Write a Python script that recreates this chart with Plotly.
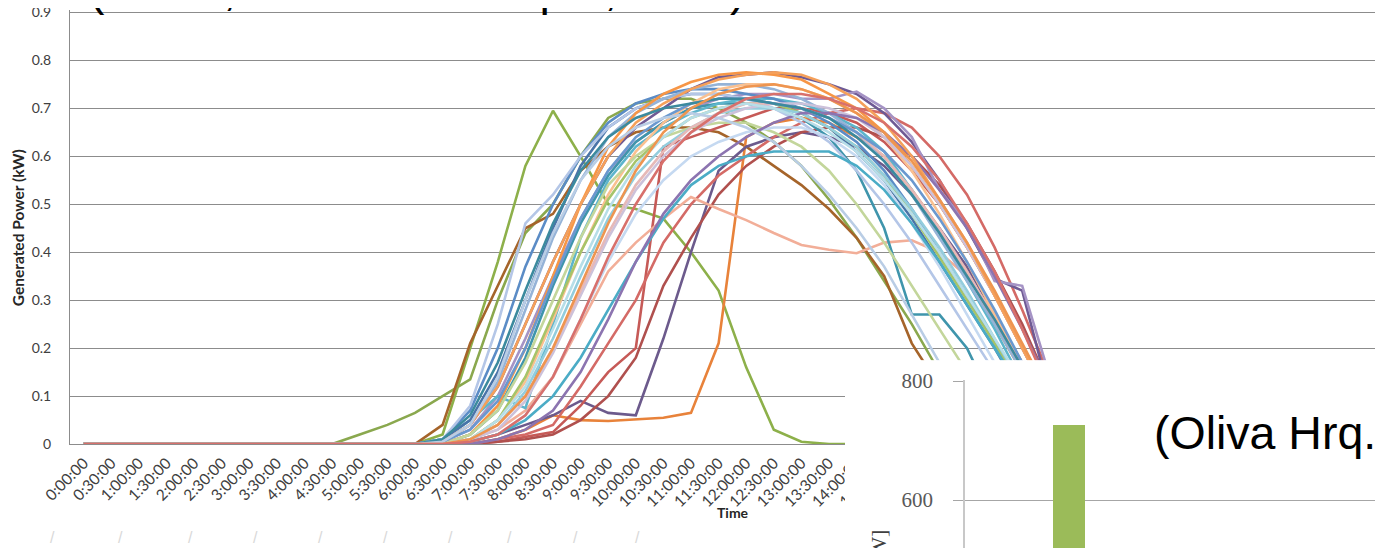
import plotly.graph_objects as go

# ---------------- data ----------------
time_labels = [
    "0:00:00", "0:30:00", "1:00:00", "1:30:00", "2:00:00", "2:30:00", "3:00:00", "3:30:00",
    "4:00:00", "4:30:00", "5:00:00", "5:30:00", "6:00:00", "6:30:00", "7:00:00", "7:30:00",
    "8:00:00", "8:30:00", "9:00:00", "9:30:00", "10:00:00", "10:30:00", "11:00:00", "11:30:00",
    "12:00:00", "12:30:00", "13:00:00", "13:30:00", "14:00:00", "14:30:00", "15:00:00", "15:30:00",
    "16:00:00", "16:30:00", "17:00:00", "17:30:00", "18:00:00", "18:30:00", "19:00:00", "19:30:00",
    "20:00:00", "20:30:00", "21:00:00", "21:30:00", "22:00:00", "22:30:00", "23:00:00", "23:30:00",
]
power_ticks = [0, 0.1, 0.2, 0.3, 0.4, 0.5, 0.6, 0.7, 0.8, 0.9]
power_tick_text = ["0", "0.1", "0.2", "0.3", "0.4", "0.5", "0.6", "0.7", "0.8", "0.9"]

# night values (0:00 - 4:00 and 19:00 - 23:30) read as zero
night_am = [0, 0, 0, 0, 0, 0, 0, 0, 0]
night_pm = [0, 0, 0, 0, 0, 0, 0, 0, 0, 0]

# day values 4:30 ... 18:30 (29 half-hour steps), kW
day01 = [0, 0, 0, 0, 0.02, 0.2, 0.38, 0.58, 0.695, 0.6, 0.5, 0.49, 0.47, 0.4, 0.32, 0.16, 0.03, 0.005, 0, 0, 0, 0, 0, 0, 0, 0, 0, 0, 0]
day02 = [0, 0.02, 0.04, 0.065, 0.1, 0.135, 0.3, 0.44, 0.5, 0.6, 0.68, 0.71, 0.72, 0.72, 0.7, 0.67, 0.63, 0.58, 0.51, 0.43, 0.34, 0.25, 0.15, 0.07, 0.02, 0, 0, 0, 0]
day03 = [0, 0, 0, 0, 0.04, 0.21, 0.33, 0.45, 0.48, 0.57, 0.62, 0.65, 0.66, 0.66, 0.65, 0.62, 0.58, 0.54, 0.49, 0.43, 0.35, 0.21, 0.12, 0.05, 0.01, 0, 0, 0, 0]
day04 = [0, 0, 0, 0, 0, 0, 0.01, 0.03, 0.06, 0.05, 0.048, 0.052, 0.055, 0.065, 0.21, 0.64, 0.67, 0.68, 0.67, 0.64, 0.6, 0.53, 0.45, 0.36, 0.25, 0.15, 0.06, 0.01, 0]
day05 = [0, 0, 0, 0, 0, 0.005, 0.02, 0.04, 0.06, 0.09, 0.065, 0.06, 0.22, 0.4, 0.57, 0.62, 0.64, 0.65, 0.64, 0.62, 0.58, 0.52, 0.45, 0.37, 0.27, 0.17, 0.07, 0.01, 0]
day06 = [0, 0, 0, 0, 0, 0, 0.005, 0.015, 0.025, 0.08, 0.15, 0.2, 0.62, 0.64, 0.66, 0.68, 0.7, 0.7, 0.69, 0.67, 0.63, 0.57, 0.5, 0.41, 0.31, 0.2, 0.09, 0.02, 0]
day07 = [0, 0, 0, 0, 0, 0, 0.005, 0.01, 0.02, 0.05, 0.1, 0.18, 0.33, 0.43, 0.52, 0.58, 0.62, 0.65, 0.66, 0.66, 0.64, 0.6, 0.54, 0.46, 0.36, 0.25, 0.12, 0.03, 0]
day08 = [0, 0, 0, 0, 0, 0, 0.01, 0.02, 0.04, 0.12, 0.21, 0.3, 0.42, 0.5, 0.56, 0.6, 0.64, 0.67, 0.69, 0.7, 0.69, 0.66, 0.6, 0.52, 0.41, 0.28, 0.14, 0.04, 0]
day09 = [0, 0, 0, 0, 0, 0.01, 0.03, 0.07, 0.14, 0.25, 0.36, 0.42, 0.47, 0.515, 0.49, 0.467, 0.44, 0.415, 0.405, 0.398, 0.42, 0.425, 0.4, 0.35, 0.27, 0.17, 0.08, 0.02, 0]
day10 = [0, 0, 0, 0, 0.005, 0.04, 0.12, 0.25, 0.38, 0.5, 0.6, 0.66, 0.7, 0.74, 0.765, 0.77, 0.775, 0.765, 0.75, 0.73, 0.69, 0.63, 0.55, 0.45, 0.345, 0.32, 0.1, 0.02, 0]
day11 = [0, 0, 0, 0, 0.005, 0.03, 0.1, 0.22, 0.35, 0.47, 0.57, 0.63, 0.67, 0.7, 0.72, 0.73, 0.73, 0.72, 0.72, 0.735, 0.7, 0.64, 0.53, 0.46, 0.34, 0.33, 0.14, 0.03, 0]
day12 = [0, 0, 0, 0, 0, 0.02, 0.07, 0.18, 0.33, 0.46, 0.56, 0.63, 0.67, 0.7, 0.71, 0.71, 0.7, 0.68, 0.64, 0.57, 0.45, 0.27, 0.27, 0.2, 0.08, 0.02, 0, 0, 0]
day13 = [0, 0, 0, 0, 0.01, 0.05, 0.1, 0.075, 0.25, 0.43, 0.55, 0.62, 0.66, 0.69, 0.71, 0.72, 0.72, 0.71, 0.69, 0.66, 0.61, 0.53, 0.44, 0.34, 0.24, 0.13, 0.05, 0.01, 0]
day14 = [0, 0, 0, 0, 0.01, 0.07, 0.2, 0.37, 0.5, 0.6, 0.67, 0.71, 0.73, 0.74, 0.74, 0.73, 0.72, 0.7, 0.67, 0.63, 0.57, 0.49, 0.4, 0.31, 0.21, 0.11, 0.04, 0.005, 0]
day15 = [0, 0, 0, 0, 0.01, 0.05, 0.15, 0.3, 0.45, 0.58, 0.66, 0.7, 0.72, 0.73, 0.73, 0.72, 0.71, 0.69, 0.66, 0.61, 0.55, 0.47, 0.38, 0.29, 0.2, 0.1, 0.03, 0, 0]
day16 = [0, 0, 0, 0, 0.01, 0.08, 0.25, 0.46, 0.52, 0.6, 0.66, 0.7, 0.72, 0.73, 0.73, 0.72, 0.7, 0.67, 0.63, 0.57, 0.5, 0.42, 0.33, 0.24, 0.15, 0.07, 0.02, 0, 0]
day17 = [0, 0, 0, 0, 0.005, 0.04, 0.13, 0.28, 0.43, 0.55, 0.64, 0.69, 0.72, 0.74, 0.75, 0.75, 0.74, 0.72, 0.69, 0.65, 0.59, 0.52, 0.43, 0.34, 0.25, 0.15, 0.06, 0.01, 0]
day18 = [0, 0, 0, 0, 0, 0.02, 0.08, 0.2, 0.35, 0.5, 0.62, 0.69, 0.73, 0.755, 0.77, 0.775, 0.77, 0.76, 0.73, 0.7, 0.65, 0.58, 0.5, 0.41, 0.31, 0.2, 0.09, 0.02, 0]
day19 = [0, 0, 0, 0, 0, 0.01, 0.05, 0.13, 0.26, 0.4, 0.52, 0.61, 0.67, 0.71, 0.74, 0.75, 0.75, 0.74, 0.72, 0.69, 0.64, 0.57, 0.48, 0.38, 0.27, 0.16, 0.06, 0.01, 0]
day20 = [0, 0, 0, 0, 0, 0.02, 0.07, 0.17, 0.3, 0.43, 0.54, 0.6, 0.64, 0.66, 0.67, 0.67, 0.65, 0.62, 0.57, 0.5, 0.42, 0.33, 0.24, 0.15, 0.07, 0.02, 0, 0, 0]
day21 = [0, 0, 0, 0, 0, 0.01, 0.05, 0.14, 0.27, 0.4, 0.51, 0.59, 0.64, 0.68, 0.7, 0.71, 0.71, 0.69, 0.66, 0.62, 0.56, 0.48, 0.39, 0.3, 0.21, 0.12, 0.04, 0.005, 0]
day22 = [0, 0, 0, 0, 0, 0.01, 0.04, 0.11, 0.22, 0.35, 0.47, 0.56, 0.62, 0.66, 0.69, 0.7, 0.7, 0.69, 0.66, 0.62, 0.56, 0.49, 0.41, 0.32, 0.22, 0.12, 0.04, 0.005, 0]
day23 = [0, 0, 0, 0, 0, 0.005, 0.02, 0.06, 0.14, 0.26, 0.38, 0.48, 0.55, 0.6, 0.63, 0.65, 0.66, 0.66, 0.64, 0.6, 0.54, 0.46, 0.37, 0.27, 0.17, 0.08, 0.02, 0, 0]
day24 = [0, 0, 0, 0, 0, 0.01, 0.03, 0.09, 0.19, 0.31, 0.43, 0.53, 0.6, 0.65, 0.68, 0.7, 0.71, 0.71, 0.7, 0.68, 0.64, 0.58, 0.5, 0.41, 0.31, 0.2, 0.09, 0.02, 0]
day25 = [0, 0, 0, 0, 0, 0.005, 0.02, 0.05, 0.1, 0.18, 0.28, 0.38, 0.47, 0.54, 0.58, 0.6, 0.61, 0.61, 0.61, 0.58, 0.53, 0.46, 0.38, 0.29, 0.2, 0.11, 0.04, 0.005, 0]
day26 = [0, 0, 0, 0, 0, 0, 0.01, 0.03, 0.07, 0.15, 0.26, 0.38, 0.48, 0.55, 0.6, 0.64, 0.67, 0.69, 0.69, 0.68, 0.65, 0.6, 0.53, 0.45, 0.35, 0.24, 0.12, 0.03, 0]
day27 = [0, 0, 0, 0, 0, 0.01, 0.04, 0.1, 0.2, 0.32, 0.44, 0.54, 0.61, 0.66, 0.69, 0.71, 0.71, 0.7, 0.68, 0.65, 0.6, 0.53, 0.45, 0.36, 0.26, 0.16, 0.07, 0.01, 0]
day28 = [0, 0, 0, 0, 0.005, 0.04, 0.12, 0.25, 0.38, 0.5, 0.6, 0.67, 0.71, 0.74, 0.76, 0.77, 0.775, 0.77, 0.75, 0.72, 0.67, 0.6, 0.51, 0.42, 0.31, 0.2, 0.09, 0.02, 0]
day29 = [0, 0, 0, 0, 0.005, 0.03, 0.09, 0.2, 0.34, 0.47, 0.57, 0.64, 0.68, 0.71, 0.72, 0.72, 0.71, 0.7, 0.68, 0.65, 0.61, 0.55, 0.47, 0.38, 0.28, 0.17, 0.07, 0.01, 0]
day30 = [0, 0, 0, 0, 0, 0.01, 0.05, 0.12, 0.24, 0.37, 0.49, 0.58, 0.64, 0.68, 0.7, 0.71, 0.7, 0.68, 0.65, 0.61, 0.55, 0.48, 0.4, 0.31, 0.22, 0.13, 0.05, 0.01, 0]
day31 = [0, 0, 0, 0, 0.01, 0.06, 0.17, 0.32, 0.46, 0.57, 0.64, 0.68, 0.7, 0.71, 0.72, 0.72, 0.71, 0.7, 0.68, 0.64, 0.59, 0.52, 0.44, 0.35, 0.26, 0.16, 0.07, 0.01, 0]
day32 = [0, 0, 0, 0, 0.005, 0.04, 0.14, 0.3, 0.44, 0.55, 0.62, 0.66, 0.68, 0.69, 0.68, 0.66, 0.63, 0.58, 0.52, 0.45, 0.37, 0.27, 0.17, 0.08, 0.02, 0, 0, 0, 0]
day33 = [0, 0, 0, 0, 0, 0.01, 0.04, 0.1, 0.2, 0.33, 0.46, 0.57, 0.65, 0.7, 0.73, 0.745, 0.75, 0.74, 0.72, 0.69, 0.65, 0.59, 0.51, 0.42, 0.32, 0.21, 0.1, 0.02, 0]
day34 = [0, 0, 0, 0, 0, 0.005, 0.02, 0.06, 0.14, 0.26, 0.39, 0.5, 0.59, 0.65, 0.69, 0.72, 0.73, 0.73, 0.72, 0.7, 0.67, 0.62, 0.55, 0.46, 0.36, 0.24, 0.11, 0.02, 0]

series_days = [day01, day02, day03, day04, day05, day06, day07, day08, day09, day10,
               day11, day12, day13, day14, day15, day16, day17, day18, day19, day20,
               day21, day22, day23, day24, day25, day26, day27, day28, day29, day30,
               day31, day32, day33, day34]

series_colors = ["#8DB04A", "#8AA84E", "#A5642A", "#E8823A", "#6C5A8C", "#C65A57", "#B0504E",
                 "#D46A66", "#F2AE98", "#6F5A94", "#A593C5", "#3F95AC", "#5DB5CC", "#5B8CC6",
                 "#4A74A8", "#B4C6E7", "#95B3D7", "#F79646", "#FAC090", "#C3D69B", "#A6C46A",
                 "#93CDDD", "#C5D9F1", "#CCC1DA", "#4BACC6", "#8C74B0", "#E6B9B8", "#F5A05A",
                 "#6A98CF", "#B7DEE8", "#3C8A9E", "#B9CDE5", "#EE9550", "#D8706C"]

# inset bar chart (second chart on the slide)
inset_positions = [0]
inset_values = [726]
inset_ticks = [600, 800]

# ---------------- figure ----------------
# the page body adds an 8 px offset; the figure is sized to fill the rest of the window
OFF = 8
PX_PER_KW = 480.0          # 0.1 kW = 48 px on screen
Y_TOP = 0.905              # a little head-room so the 0.9 grid line is drawn
W, H = 1383 - OFF, 548 - OFF
L = 70 - OFF
T = 12 - OFF - (Y_TOP - 0.9) * PX_PER_KW
PW, PH = W - L, H - T


def px_x(px):
    """screen x (reference pixels) -> paper x"""
    return (px - OFF - L) / PW


def px_y(py):
    """screen y (reference pixels) -> paper y"""
    return (H - (py - OFF)) / PH


fig = go.Figure()

for vals, col in zip(series_days, series_colors):
    fig.add_trace(go.Scatter(
        x=time_labels, y=night_am + vals + night_pm,
        mode="lines", line=dict(color=col, width=2.6),
        xaxis="x", yaxis="y", showlegend=False, hoverinfo="skip"))

# white panel of the overlapping slide (empty subplot)
fig.add_trace(go.Scatter(x=[], y=[], xaxis="x2", yaxis="y2", showlegend=False))

# inset bar
fig.add_trace(go.Bar(x=inset_positions, y=inset_values, width=0.32,
                     marker=dict(color="#9BBB59", line=dict(width=0)),
                     xaxis="x3", yaxis="y3", showlegend=False))

fig.update_layout(
    width=W, height=H,
    margin=dict(l=L, r=0, t=T, b=0, autoexpand=False),
    paper_bgcolor="white", plot_bgcolor="white",
    showlegend=False,
    xaxis=dict(domain=[0, 1], anchor="y", type="category",
               range=[-0.5, -0.5 + PW / 27.6],
               tickmode="array", tickvals=time_labels, ticktext=time_labels,
               tickangle=-45, tickfont=dict(family="Lato", size=15.5, color="#404040"),
               ticks="", showgrid=False, zeroline=False,
               showline=True, linecolor="#8C8C8C", linewidth=1,
               automargin=False, ticklabelstandoff=3, ticklabeloverflow="allow"),
    yaxis=dict(domain=[px_y(444), 1], anchor="x",
               range=[0, Y_TOP],
               tickmode="array", tickvals=power_ticks, ticktext=power_tick_text,
               tickfont=dict(family="Lato", size=14, color="#404040"),
               showgrid=True, gridcolor="#8C8C8C", gridwidth=1,
               zeroline=False, showline=True, linecolor="#8C8C8C", linewidth=1,
               ticks="", automargin=False, ticklabelstandoff=15,
               ticklabeloverflow="allow"),
    xaxis2=dict(domain=[px_x(845), 1], anchor="y2", range=[0, 1],
                showgrid=False, zeroline=False, showline=False,
                showticklabels=False, ticks="", automargin=False),
    yaxis2=dict(domain=[0, px_y(360)], anchor="x2", range=[0, 1],
                showgrid=False, zeroline=False, showline=False,
                showticklabels=False, ticks="", automargin=False),
    xaxis3=dict(domain=[px_x(965), 1], anchor="y3", range=[-1.04, -1.04 + (1383 - 965) / 100],
                showgrid=False, zeroline=False, showline=False,
                showticklabels=False, ticks="", automargin=False),
    yaxis3=dict(domain=[0, px_y(380)], anchor="x3",
                range=[600 - 48 / 0.595, 800 + 1 / 0.595],
                tickmode="array", tickvals=inset_ticks, ticktext=[str(v) for v in inset_ticks],
                tickfont=dict(family="Liberation Serif", size=21, color="#595959"),
                showgrid=True, gridcolor="#A6A6A6", gridwidth=1,
                zeroline=False, showline=True, linecolor="#C8C8C8", linewidth=1.5,
                ticks="outside", ticklen=10, tickcolor="#A6A6A6",
                automargin=False, ticklabelstandoff=16, ticklabeloverflow="allow"),
    bargap=0,
)

annotations = [
    # slide title (upper part cut off)
    dict(text="(Lewis, ISGT 2011 Paper, 2011)", x=px_x(87), y=px_y(17),
         xanchor="left", yanchor="bottom",
         font=dict(family="Liberation Sans", size=46.5, color="black")),
    # second slide label
    dict(text="(Oliva Hrq.", x=px_x(1152), y=px_y(461),
         xanchor="left", yanchor="bottom",
         font=dict(family="Liberation Sans", size=46.5, color="black")),
    # axis titles
    dict(text="<b>Generated Power (kW)</b>", x=px_x(18), y=px_y(228),
         xanchor="center", yanchor="middle", textangle=-90,
         font=dict(family="Lato", size=15.5, color="#262626")),
    dict(text="<b>Time</b>", x=px_x(733), y=px_y(512),
         xanchor="center", yanchor="middle",
         font=dict(family="Lato", size=14, color="#262626")),
    dict(text="[W]", x=px_x(878), y=px_y(548),
         xanchor="center", yanchor="middle", textangle=-90,
         font=dict(family="Liberation Serif", size=22, color="#404040")),
]
for xm in [52, 120, 190, 255, 320, 385, 450, 510, 575, 637]:
    annotations.append(dict(text="/", x=px_x(xm), y=px_y(537), xanchor="center", yanchor="middle",
                            font=dict(family="Liberation Sans", size=16, color="#D9D9D9")))

for a in annotations:
    a.update(xref="paper", yref="paper", showarrow=False)
fig.update_layout(annotations=annotations)

fig.write_html("out.html")
